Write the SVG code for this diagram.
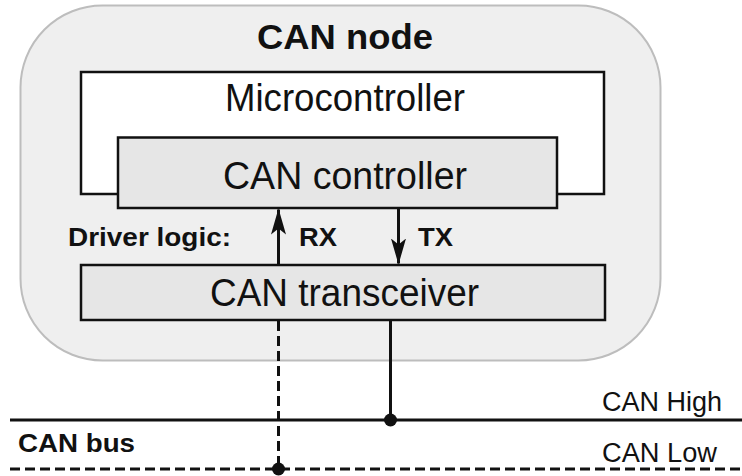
<svg xmlns="http://www.w3.org/2000/svg" width="742" height="476" viewBox="0 0 742 476">
  <style>
    .lbl { font-family: "Liberation Sans", Arial, sans-serif; fill: #111; }
    .b { font-weight: bold; }
    .box { stroke: #111; stroke-width: 2.5; }
    .wire { stroke: #111; stroke-width: 3; fill: none; }
    .dash { stroke-dasharray: 10 5; }
  </style>
  <defs>
    <!-- slim arrowhead with a notched back, tip at the line end -->
    <marker id="arrow" viewBox="0 0 26 16" refX="25" refY="8" markerWidth="26" markerHeight="16" markerUnits="userSpaceOnUse" orient="auto">
      <path d="M26 8 L0 0.5 L6 8 L0 15.5 Z" fill="#111"/>
    </marker>
  </defs>

  <!-- CAN node enclosure -->
  <g id="can-node">
    <rect x="20.5" y="5.5" width="640" height="355" rx="82" ry="82" fill="#efefef" stroke="#bdbdbd" stroke-width="2"/>
    <text class="lbl b" x="345" y="49" font-size="35" text-anchor="middle" textLength="176" lengthAdjust="spacingAndGlyphs">CAN node</text>
  </g>

  <!-- Microcontroller -->
  <g id="microcontroller">
    <rect class="box" x="81" y="72" width="523" height="122" fill="#ffffff"/>
    <text class="lbl" x="345" y="111" font-size="38" text-anchor="middle" textLength="240" lengthAdjust="spacingAndGlyphs">Microcontroller</text>
  </g>

  <!-- CAN controller -->
  <g id="can-controller">
    <rect class="box" x="118" y="137.5" width="439" height="70.5" fill="#e6e6e6"/>
    <text class="lbl" x="345" y="189" font-size="38" text-anchor="middle" textLength="244" lengthAdjust="spacingAndGlyphs">CAN controller</text>
  </g>

  <!-- CAN transceiver -->
  <g id="can-transceiver">
    <rect class="box" x="81" y="265" width="524" height="55" fill="#e6e6e6"/>
    <text class="lbl" x="344.5" y="306" font-size="38" text-anchor="middle" textLength="269" lengthAdjust="spacingAndGlyphs">CAN transceiver</text>
  </g>

  <!-- Connectors -->
  <g id="connectors">
    <line class="wire" x1="278.5" y1="265" x2="278.5" y2="209.5" marker-end="url(#arrow)"/>
    <line class="wire" x1="398.5" y1="208" x2="398.5" y2="263.5" marker-end="url(#arrow)"/>
    <line class="wire dash" x1="278.5" y1="321" x2="278.5" y2="469"/>
    <line class="wire" x1="390.5" y1="321" x2="390.5" y2="420"/>
    <line class="wire" x1="10" y1="420" x2="742" y2="420"/>
    <line class="wire dash" x1="10" y1="469" x2="742" y2="469"/>
    <circle cx="390.5" cy="420" r="6.5" fill="#111"/>
    <circle cx="278.5" cy="469" r="6.5" fill="#111"/>
  </g>

  <!-- Labels -->
  <g id="labels">
    <text class="lbl b" x="68" y="246" font-size="25" textLength="163" lengthAdjust="spacingAndGlyphs">Driver logic:</text>
    <text class="lbl b" x="299" y="246" font-size="25" textLength="38" lengthAdjust="spacingAndGlyphs">RX</text>
    <text class="lbl b" x="418" y="246" font-size="25" textLength="35" lengthAdjust="spacingAndGlyphs">TX</text>
    <text class="lbl b" x="18" y="452" font-size="25" textLength="117" lengthAdjust="spacingAndGlyphs">CAN bus</text>
    <text class="lbl" x="602" y="411" font-size="27" textLength="120" lengthAdjust="spacingAndGlyphs">CAN High</text>
    <text class="lbl" x="602" y="462" font-size="27" textLength="115" lengthAdjust="spacingAndGlyphs">CAN Low</text>
  </g>
</svg>
